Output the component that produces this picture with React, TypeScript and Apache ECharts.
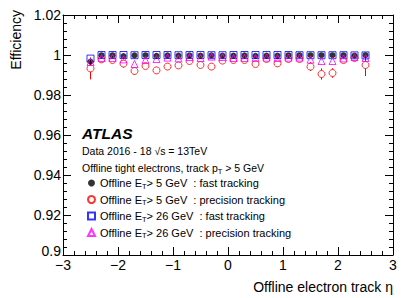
import React, { useEffect, useRef } from 'react';
import * as echarts from 'echarts';

const FONT = 'Liberation Sans';

const eta = [-2.5, -2.3, -2.1, -1.9, -1.7, -1.5, -1.3, -1.1, -0.9, -0.7, -0.5, -0.3, -0.1, 0.1, 0.3, 0.5, 0.7, 0.9, 1.1, 1.3, 1.5, 1.7, 1.9, 2.1, 2.3, 2.5];

// Offline ET > 5 GeV : fast tracking
const eff5Fast = [0.9967, 0.9999, 0.9999, 0.9995, 0.9998, 0.9999, 0.9996, 0.9998, 0.9997, 0.9998, 0.9997, 0.9998, 0.9997, 0.9997, 0.9998, 0.9996, 0.9997, 0.9997, 0.9999, 0.9999, 0.9999, 0.9999, 0.9999, 0.9999, 0.9997, 0.9999];
const err5Fast = [0.0012, 0.0002, 0.0002, 0.0003, 0.0002, 0.0002, 0.0002, 0.0002, 0.0002, 0.0002, 0.0002, 0.0002, 0.0002, 0.0002, 0.0002, 0.0002, 0.0002, 0.0002, 0.0002, 0.0002, 0.0002, 0.0002, 0.0002, 0.0002, 0.0002, 0.0002];

// Offline ET > 5 GeV : precision tracking
const eff5Prec = [0.9933, 0.9978, 0.9975, 0.9957, 0.992, 0.9945, 0.9923, 0.9942, 0.9948, 0.997, 0.995, 0.9942, 0.9972, 0.9975, 0.9975, 0.9955, 0.998, 0.9958, 0.998, 0.998, 0.9942, 0.9905, 0.991, 0.9975, 0.9985, 0.995];
const err5Prec = [0.0055, 0.0012, 0.0012, 0.002, 0.002, 0.0015, 0.0018, 0.0012, 0.0012, 0.001, 0.0012, 0.0012, 0.0008, 0.0008, 0.0008, 0.0012, 0.0008, 0.0012, 0.0008, 0.0008, 0.0022, 0.0028, 0.0024, 0.0012, 0.001, 0.0055];

// Offline ET > 26 GeV : fast tracking
const eff26Fast = [0.9982, 1.0, 1.0, 1.0, 0.9999, 1.0, 1.0, 1.0, 0.9999, 1.0, 1.0, 0.9999, 0.9999, 1.0, 1.0, 1.0, 1.0, 1.0, 1.0, 0.9999, 0.9999, 0.9999, 0.9999, 0.9999, 0.9998, 0.9998];
const err26Fast = [0.001, 0.0001, 0.0001, 0.0001, 0.0001, 0.0001, 0.0001, 0.0001, 0.0001, 0.0001, 0.0001, 0.0001, 0.0001, 0.0001, 0.0001, 0.0001, 0.0001, 0.0001, 0.0001, 0.0001, 0.0001, 0.0001, 0.0001, 0.0001, 0.0001, 0.0001];

// Offline ET > 26 GeV : precision tracking
const eff26Prec = [0.9965, 0.9985, 0.9985, 0.9978, 0.9955, 0.9975, 0.998, 0.9987, 0.9983, 0.999, 0.9985, 0.9992, 0.999, 0.9985, 0.9985, 0.9985, 0.9987, 0.9985, 0.9987, 0.9987, 0.9977, 0.997, 0.997, 0.9983, 0.999, 0.9985];
const err26Prec = [0.0015, 0.0005, 0.0005, 0.0006, 0.001, 0.0006, 0.0005, 0.0004, 0.0005, 0.0004, 0.0004, 0.0004, 0.0004, 0.0004, 0.0004, 0.0004, 0.0004, 0.0004, 0.0004, 0.0004, 0.0007, 0.001, 0.001, 0.0006, 0.0004, 0.0008];

const seriesNames = ['e5fast', 'e5prec', 'e26fast', 'e26prec'];
const legendLabels: Record<string, string> = {
  e5fast: 'Offline E{sub|T}> 5 GeV  : fast tracking',
  e5prec: 'Offline E{sub|T}> 5 GeV  : precision tracking',
  e26fast: 'Offline E{sub|T}> 26 GeV  : fast tracking',
  e26prec: 'Offline E{sub|T}> 26 GeV  : precision tracking',
};

const xMin = -3, xMax = 3, xStep = 1;
const yMin = 0.9, yMax = 1.02, yStep = 0.02;

const subRich = { sub: { fontSize: 7.5, lineHeight: 8, verticalAlign: 'bottom', fontFamily: FONT, color: '#000' } };

function errorBars(name: string, eff: number[], err: number[], color: string, gap: number, z: number) {
  return {
    type: 'custom',
    name: name + '_err',
    silent: true,
    z,
    data: eta.map((x, i) => [x, eff[i], err[i]]),
    encode: { x: 0, y: 1 },
    renderItem: (params: any, api: any) => {
      const x = api.value(0), y = api.value(1), e = api.value(2);
      const c = api.coord([x, y]);
      const hi = api.coord([x, y + e]);
      const lo = api.coord([x, y - e]);
      const children: any[] = [];
      if (c[1] - gap > hi[1]) children.push({ type: 'line', shape: { x1: c[0], y1: hi[1], x2: c[0], y2: c[1] - gap }, style: { stroke: color, lineWidth: 1 } });
      if (lo[1] > c[1] + gap) children.push({ type: 'line', shape: { x1: c[0], y1: c[1] + gap, x2: c[0], y2: lo[1] }, style: { stroke: color, lineWidth: 1 } });
      return { type: 'group', children };
    },
  };
}

function scatter(name: string, eff: number[], symbol: string, size: number, itemStyle: any, z: number) {
  return {
    type: 'scatter',
    name,
    symbol,
    symbolSize: size,
    z,
    itemStyle,
    data: eta.map((x, i) => [x, eff[i]]),
  };
}

const axisCommon = {
  axisLine: { show: true, onZero: false, lineStyle: { color: '#000', width: 1 } },
  axisTick: { show: true, inside: true, length: 8, lineStyle: { color: '#000', width: 1 } },
  minorTick: { show: true, splitNumber: 5, length: 4, lineStyle: { color: '#000', width: 1 } },
  splitLine: { show: false },
  minorSplitLine: { show: false },
};

export default function App() {
  const ref = useRef<HTMLDivElement>(null);
  useEffect(() => {
    if (!ref.current) return;
    const chart = echarts.init(ref.current, undefined, { renderer: 'svg' });
    chart.setOption({
      animation: false,
      backgroundColor: '#fff',
      textStyle: { fontFamily: FONT },
      grid: { left: 63, right: 22, top: 15, bottom: 43, containLabel: false },
      xAxis: [
        {
          type: 'value', min: xMin, max: xMax, interval: xStep, position: 'bottom',
          ...axisCommon,
          axisLabel: { color: '#000', fontSize: 14, fontFamily: FONT, margin: 3, formatter: (v: number) => String(v).replace('-', '\u2212') },
          name: 'Offline electron track \u03b7',
          nameLocation: 'end',
          nameGap: 0,
          nameTextStyle: { color: '#000', fontSize: 14, fontFamily: FONT, align: 'right', verticalAlign: 'top', padding: [25, 0, 0, 0] },
        },
        {
          type: 'value', min: xMin, max: xMax, interval: xStep, position: 'top',
          ...axisCommon,
          axisLabel: { show: false },
        },
      ],
      yAxis: [
        {
          type: 'value', min: yMin, max: yMax, interval: yStep, position: 'left',
          ...axisCommon,
          axisLabel: {
            color: '#000', fontSize: 14, fontFamily: FONT, margin: 2,
            formatter: (v: number) => (Math.abs(v - yMin) < 1e-9 ? '{low|' + String(Math.round(v * 100) / 100) + '}' : String(Math.round(v * 100) / 100)),
            rich: { low: { fontSize: 14, fontFamily: FONT, color: '#000', padding: [0, 0, 8, 0] } },
          },
        },
        {
          type: 'value', min: yMin, max: yMax, interval: yStep, position: 'right',
          ...axisCommon,
          axisLabel: { show: false },
        },
      ],
      legend: {
        orient: 'vertical',
        left: 82,
        top: 171,
        itemWidth: 7,
        itemHeight: 7,
        itemGap: 2.5,
        selectedMode: false,
        data: seriesNames,
        formatter: (n: string) => legendLabels[n],
        textStyle: { fontSize: 11, lineHeight: 14, fontFamily: FONT, color: '#000', rich: subRich },
      },
      graphic: [
        { type: 'text', x: 16, y: 10, rotation: Math.PI / 2, style: { text: 'Efficiency', fontSize: 14, fontFamily: FONT, fill: '#000', align: 'right', verticalAlign: 'middle' } },
        { type: 'text', x: 82, y: 133, style: { text: 'ATLAS', fontSize: 15.5, fontWeight: 'bold', fontStyle: 'italic', fontFamily: FONT, fill: '#000', align: 'left', verticalAlign: 'middle' } },
        { type: 'text', x: 82, y: 151, style: { text: 'Data 2016 - 18 \u221as = 13TeV', fontSize: 10.5, fontFamily: FONT, fill: '#000', align: 'left', verticalAlign: 'middle' } },
        { type: 'text', x: 82, y: 168, style: { text: 'Offline tight electrons, track p{sub|T} > 5 GeV', fontSize: 10.5, lineHeight: 14, fontFamily: FONT, fill: '#000', align: 'left', verticalAlign: 'middle', rich: subRich } },
      ],
      series: [
        errorBars('e5prec', eff5Prec, err5Prec, '#ff0000', 3.5, 2),
        errorBars('e26prec', eff26Prec, err26Prec, '#ff00ff', 3.5, 2),
        errorBars('e5fast', eff5Fast, err5Fast, '#000000', 3, 2),
        errorBars('e26fast', eff26Fast, err26Fast, '#0000ff', 3.5, 2),
        scatter('e26fast', eff26Fast, 'rect', 7, { color: 'transparent', borderColor: '#0000ff', borderWidth: 1 }, 3),
        scatter('e5prec', eff5Prec, 'circle', 7, { color: 'transparent', borderColor: '#ff0000', borderWidth: 1 }, 4),
        scatter('e5fast', eff5Fast, 'circle', 6, { color: '#000000' }, 5),
        scatter('e26prec', eff26Prec, 'triangle', 7, { color: 'transparent', borderColor: '#ff00ff', borderWidth: 1 }, 6),
      ],
    });
    return () => chart.dispose();
  }, []);
  return <div ref={ref} style={{ position: 'fixed', left: 0, top: 0, width: 415, height: 298, background: '#fff' }} />;
}
